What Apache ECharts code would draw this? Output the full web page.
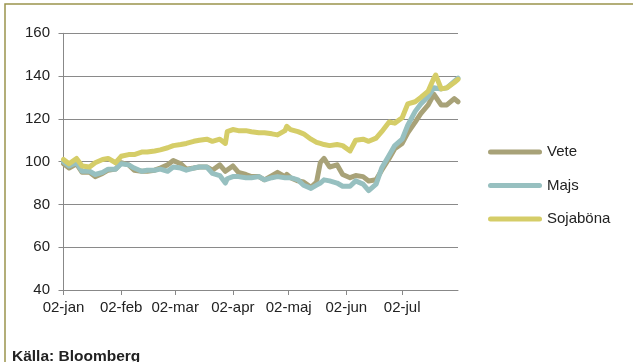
<!DOCTYPE html>
<html>
<head>
<meta charset="utf-8">
<script src="https://cdn.jsdelivr.net/npm/echarts@6/dist/echarts.min.js"></script>
<style>
html,body{margin:0;padding:0;background:#fff;}
#chart{width:633px;height:362px;}
</style>
</head>
<body>
<div id="chart"></div>
<script>
const dates = ['2012-01-02','2012-01-05','2012-01-09','2012-01-12','2012-01-16','2012-01-19','2012-01-23','2012-01-26','2012-01-30',
'2012-02-02','2012-02-06','2012-02-09','2012-02-13','2012-02-16','2012-02-20','2012-02-23','2012-02-27',
'2012-03-01','2012-03-05','2012-03-08','2012-03-12','2012-03-15','2012-03-19','2012-03-22','2012-03-26','2012-03-29','2012-03-30',
'2012-04-02','2012-04-05','2012-04-09','2012-04-12','2012-04-16','2012-04-19','2012-04-23','2012-04-26','2012-04-30',
'2012-05-01','2012-05-03','2012-05-07','2012-05-10','2012-05-14','2012-05-17','2012-05-19','2012-05-21','2012-05-24','2012-05-28','2012-05-31',
'2012-06-04','2012-06-07','2012-06-11','2012-06-14','2012-06-18','2012-06-21','2012-06-25','2012-06-28',
'2012-07-02','2012-07-05','2012-07-09','2012-07-12','2012-07-16','2012-07-19','2012-07-20','2012-07-23','2012-07-26','2012-07-30',
'2012-08-01'];

const vete = [99, 97, 99, 95, 95, 93, 94.5, 96, 96.5,
99.5, 98.5, 96, 95.5, 95.5, 96, 97, 98.5,
100.5, 99, 96.5, 97, 97.5, 97.5, 96, 98.5, 95.5, 96,
98, 95, 94, 93, 93, 91.5, 93.5, 95, 93,
94, 92.5, 91, 90.5, 88, 90.5, 99.5, 101.5, 97.5, 98.5, 94,
92.5, 93.5, 93, 91, 91.5, 96, 101.5, 106,
108.5, 113.5, 118.5, 122.5, 126.5, 131.5, 132, 126.5, 126.5, 129.5,
128];

const majs = [100, 98, 99.5, 95.5, 95.5, 94, 95, 96.5, 96.5,
99, 98.5, 97, 95.5, 96, 96, 96.5, 95.5,
97.5, 97, 96, 97, 97.5, 97.5, 94.5, 93.5, 90, 92,
93, 93, 92.5, 92.5, 93, 91.5, 92.5, 93, 92.5,
92.5, 92.5, 91.5, 89, 87.5, 89, 90, 91.5, 91, 90, 88.5,
88.5, 91, 89.5, 86.5, 89.5, 97, 103, 107.5,
110.5, 117, 123.5, 127, 130.5, 134.5, 135, 134, 134.5, 137.5,
139];

const soja = [101, 99, 101.5, 98, 97.5, 99.5, 101, 101.5, 99.5,
102.5, 103.3, 103.3, 104.5, 104.5, 105, 105.5, 106.5,
107.5, 108, 108.5, 109.5, 110, 110.5, 109.5, 110.5, 108.5, 114,
115, 114.5, 114.5, 114, 113.5, 113.5, 113, 112.5, 114.5,
116.5, 115, 114, 113, 110.5, 109, 108.5, 108, 107.5, 108, 107.5,
105, 110, 110.5, 109.5, 111, 114, 118.5, 118,
120.5, 127, 128, 130, 133, 139, 140.5, 134, 134.5, 137,
138.5];

const seriesNames = ['Vete', 'Majs', 'Sojaböna'];
const tickDates = ['2012-01-02','2012-02-02','2012-03-02','2012-04-02','2012-05-02','2012-06-02','2012-07-02'];
const tickLabels = ['02-jan','02-feb','02-mar','02-apr','02-maj','02-jun','02-jul'];
const axisStart = '2012-01-02';
const axisEnd = '2012-08-01';
const sourceText = 'Källa: Bloomberg';

function toTs(s) {
  const p = s.split('-').map(Number);
  return Date.UTC(p[0], p[1] - 1, p[2]);
}
const tickTs = tickDates.map(toTs);

const colors = ['#a8a278', '#97c0c0', '#d5cd68'];
const seriesData = [vete, majs, soja];

const chart = echarts.init(document.getElementById('chart'), null, {renderer: 'canvas'});
const capsule = 'path://M2.5,0 L51.5,0 A2.5,2.5 0 0 1 51.5,5 L2.5,5 A2.5,2.5 0 0 1 2.5,0 Z';

chart.setOption({
  animation: false,
  backgroundColor: '#ffffff',
  color: colors,
  grid: {left: 63.5, top: 33.3, right: 175, bottom: 72, containLabel: false},
  legend: {
    orient: 'vertical',
    left: 488,
    top: 143,
    padding: 0,
    itemWidth: 54,
    itemHeight: 5,
    itemGap: 15.5,
    icon: capsule,
    data: seriesNames,
    textStyle: {fontFamily: 'Liberation Sans, Arial, sans-serif', fontSize: 15, color: '#222', lineHeight: 18},
    selectedMode: false
  },
  xAxis: {
    type: 'value',
    min: toTs(axisStart),
    max: toTs(axisEnd),
    axisLine: {show: true, onZero: false, lineStyle: {color: '#888', width: 1}},
    axisTick: {show: true, length: 5, lineStyle: {color: '#888'}, customValues: tickTs},
    axisLabel: {
      customValues: tickTs,
      margin: 10,
      fontFamily: 'Liberation Sans, Arial, sans-serif',
      fontSize: 15,
      color: '#222',
      formatter: function (v) {
        const i = tickTs.indexOf(v);
        return i >= 0 ? tickLabels[i] : '';
      }
    },
    splitLine: {show: false}
  },
  yAxis: {
    type: 'value',
    min: 40,
    max: 160,
    interval: 20,
    axisLine: {show: true, lineStyle: {color: '#888', width: 1}},
    axisTick: {show: true, length: 5, lineStyle: {color: '#888'}},
    axisLabel: {
      margin: 13.5,
      fontFamily: 'Liberation Sans, Arial, sans-serif',
      fontSize: 15,
      color: '#222'
    },
    splitLine: {show: true, lineStyle: {color: '#8a8a8a', width: 1}}
  },
  series: seriesNames.map(function (name, k) {
    return {
      name: name,
      type: 'line',
      symbol: 'none',
      smooth: false,
      data: dates.map(function (d, i) { return [toTs(d), seriesData[k][i]]; }),
      lineStyle: {width: 5, color: colors[k], cap: 'round', join: 'round'},
      itemStyle: {color: colors[k]},
      z: 2 + k
    };
  }),
  graphic: [
    {
      type: 'rect',
      shape: {x: 5, y: 4, width: 700, height: 500},
      style: {fill: 'none', stroke: '#9a944c', lineWidth: 1.5},
      silent: true
    },
    {
      type: 'text',
      left: 12,
      top: 349,
      style: {text: sourceText, font: 'bold 15.5px "Liberation Sans", Arial, sans-serif', fill: '#222'},
      silent: true
    }
  ]
});
</script>
</body>
</html>
